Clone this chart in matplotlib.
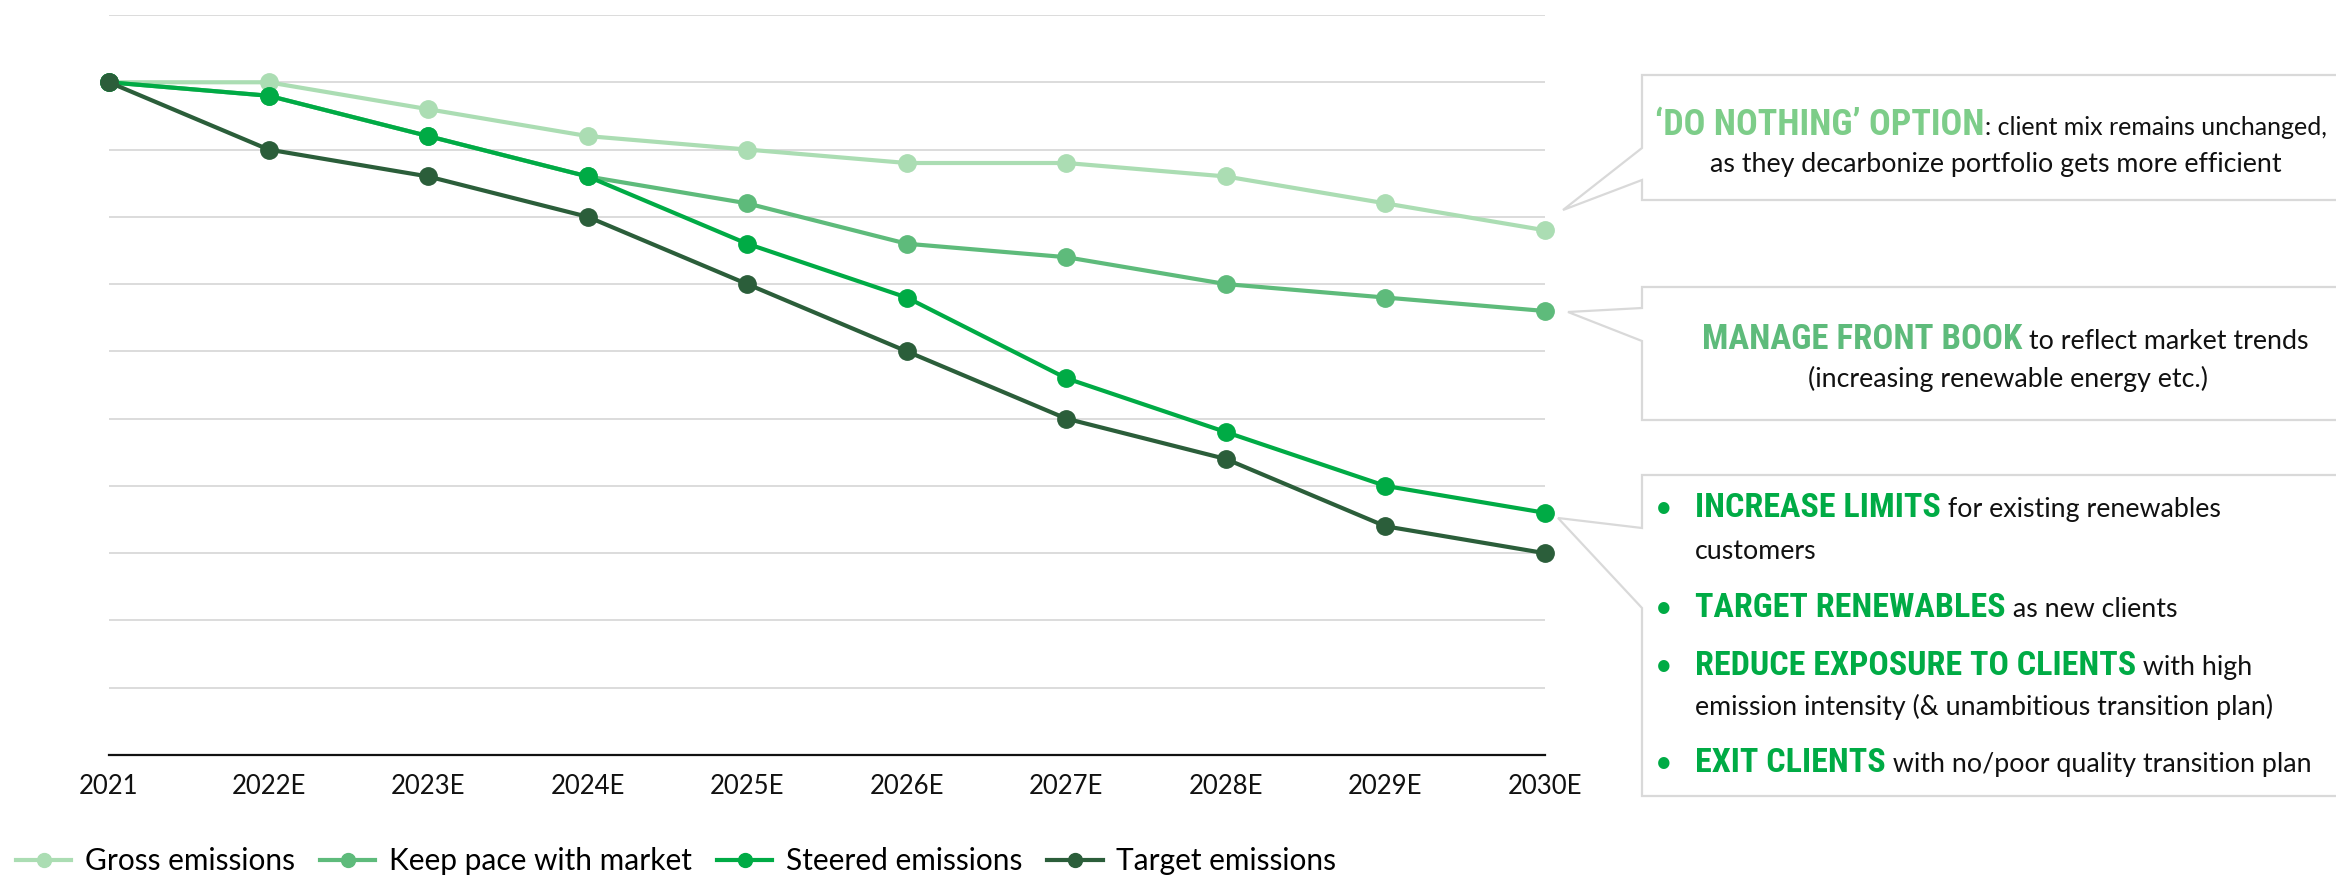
import matplotlib
matplotlib.use("Agg")
import matplotlib.pyplot as plt
from matplotlib import font_manager
from matplotlib.lines import Line2D
from matplotlib.patches import Polygon

# ---- data -------------------------------------------------------------
years = ["2021", "2022E", "2023E", "2024E", "2025E",
         "2026E", "2027E", "2028E", "2029E", "2030E"]
gross = [100, 100, 96, 92, 90, 88, 88, 86, 82, 78]
keep_pace = [100, 98, 92, 86, 82, 76, 74, 70, 68, 66]
steered = [100, 98, 92, 86, 76, 68, 56, 48, 40, 36]
target = [100, 90, 86, 80, 70, 60, 50, 44, 34, 30]

series_names = ["Gross emissions", "Keep pace with market",
                "Steered emissions", "Target emissions"]
series_colors = ["#ABDDB3", "#5EBB7B", "#00AB45", "#2B5E3A"]

# ---- fonts ------------------------------------------------------------
def pick_font(candidates):
    for name in candidates:
        try:
            font_manager.findfont(font_manager.FontProperties(family=name),
                                  fallback_to_default=False)
            return name
        except Exception:
            continue
    return "DejaVu Sans"

BODY = pick_font(["Lato", "Open Sans", "Noto Sans", "DejaVu Sans"])
HEAD = pick_font(["Liberation Sans Narrow", "Roboto Condensed",
                  "DejaVu Sans Condensed", "Liberation Sans"])

# ---- figure -----------------------------------------------------------
W, H = 2336, 876
fig = plt.figure(figsize=(W / 100, H / 100), dpi=100)
fig.patch.set_facecolor("white")


def fx(x):
    return x / W


def fy(y):
    return 1 - y / H


ax = fig.add_axes([fx(109), fy(755), (1545 - 109) / W, (755 - 15) / H])
x = list(range(len(years)))
for vals, name, col in zip([gross, keep_pace, steered, target],
                           series_names, series_colors):
    ax.plot(x, vals, color=col, lw=3, marker="o", markersize=12.5,
            label=name, clip_on=False, zorder=3)

ax.set_xlim(0, len(years) - 1)
ax.set_ylim(0, 110)
ax.set_yticks(range(0, 111, 10))
ax.set_yticklabels([])
ax.set_xticks(x)
ax.set_xticklabels(years, fontsize=18.5, family=BODY, color="#111111")
ax.tick_params(axis="both", length=0)
ax.tick_params(axis="x", pad=14)
ax.grid(axis="y", color="#D9D9D9", lw=1.3)
ax.set_axisbelow(True)
for side in ["left", "right", "top"]:
    ax.spines[side].set_visible(False)
ax.spines["bottom"].set_color("#111111")
ax.spines["bottom"].set_linewidth(1.6)
ax.spines["bottom"].set_zorder(4)

# ---- legend -----------------------------------------------------------
handles = [Line2D([], [], color=c, lw=3, marker="o", markersize=10)
           for c in series_colors]
fig.legend(handles, series_names, loc="center left",
           bbox_to_anchor=(fx(16), fy(861)), ncol=4, frameon=False,
           prop={"family": BODY, "size": 21.5}, handlelength=1.85,
           handletextpad=0.45, columnspacing=0.85, borderpad=0,
           borderaxespad=0)

# ---- callout boxes ----------------------------------------------------
BOX_EDGE = "#D9D9D9"
callouts = [
    [(2345, 75), (1642, 75), (1642, 148), (1563, 210), (1642, 180),
     (1642, 200), (2345, 200)],
    [(2345, 287), (1642, 287), (1642, 308), (1568, 312), (1642, 341),
     (1642, 420), (2345, 420)],
    [(2345, 475), (1642, 475), (1642, 528), (1558, 518), (1642, 608),
     (1642, 796), (2345, 796)],
]
for pts in callouts:
    poly = Polygon([(fx(a), fy(b)) for a, b in pts], closed=False,
                   facecolor="white", edgecolor=BOX_EDGE, lw=1.6,
                   transform=fig.transFigure, zorder=1)
    fig.add_artist(poly)

renderer = fig.canvas.get_renderer()


def rich_line(parts, xpos, ybase, align="left"):
    texts = []
    for s, kw in parts:
        t = fig.text(0, 0, s, ha="left", va="baseline", **kw)
        texts.append(t)
    widths = [t.get_window_extent(renderer).width for t in texts]
    cur = xpos - sum(widths) / 2 if align == "center" else xpos
    for t, w in zip(texts, widths):
        t.set_position((fx(cur), fy(ybase)))
        cur += w


def head(s, color, size=24.5):
    return (s, dict(family=HEAD, weight="bold", color=color, fontsize=size))


def body(s, size=19.3):
    return (s, dict(family=BODY, color="#111111", fontsize=size))


rich_line([head("\u2018DO NOTHING\u2019 OPTION", "#7DCD89", 26),
           body(": client mix remains unchanged,", 18)], 1991, 135, "center")
rich_line([body("as they decarbonize portfolio gets more efficient")],
          1996, 172, "center")

rich_line([head("MANAGE FRONT BOOK", "#5EBB7B", 25),
           body(" to reflect market trends")], 2005, 349, "center")
rich_line([body("(increasing renewable energy etc.)")], 2008, 387, "center")

GREEN = "#00AB45"
TX = 1695
bullet_rows = [
    (517, [head("INCREASE LIMITS", GREEN), body(" for existing renewables")]),
    (617, [head("TARGET RENEWABLES", GREEN), body(" as new clients")]),
    (675, [head("REDUCE EXPOSURE TO CLIENTS", GREEN), body(" with high")]),
    (772, [head("EXIT CLIENTS", GREEN),
           body(" with no/poor quality transition plan")]),
]
for yb, parts in bullet_rows:
    fig.text(fx(1664), fy(yb), "\u2022", ha="center", va="baseline",
             color=GREEN, fontsize=22, family=BODY)
    rich_line(parts, TX, yb)
rich_line([body("customers")], TX, 559)
rich_line([body("emission intensity (& unambitious transition plan)")],
          TX, 715)

fig.savefig("out.png", dpi=100, facecolor="white")
